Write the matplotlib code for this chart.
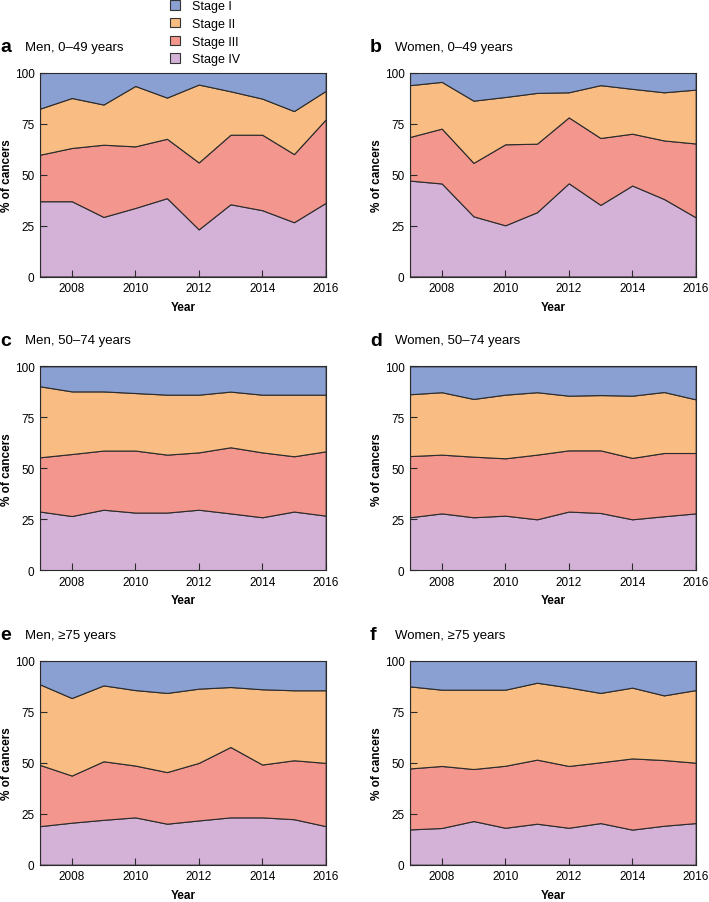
import matplotlib
matplotlib.use("Agg")
import matplotlib.pyplot as plt
from matplotlib.patches import Patch

plt.rcParams.update({"font.family": ["Liberation Sans", "DejaVu Sans"], "font.size": 8.5})

years = [2007, 2008, 2009, 2010, 2011, 2012, 2013, 2014, 2015, 2016]
stage_names = ["Stage I", "Stage II", "Stage III", "Stage IV"]
stage_colors = ["#8AA0D2", "#F9BC82", "#F3968D", "#D4B2D8"]

# share of cancers (%) by stage, per panel
men_0_49_iv = [36.9, 36.9, 29.2, 33.6, 38.4, 23.1, 35.4, 32.5, 26.6, 36.1]
men_0_49_iii = [22.8, 26.1, 35.4, 30.2, 29.1, 32.8, 34.1, 37.0, 33.4, 40.9]
men_0_49_ii = [22.6, 24.5, 19.7, 29.6, 20.2, 38.2, 21.3, 17.7, 21.1, 14.0]
men_0_49_i = [17.7, 12.5, 15.7, 6.6, 12.3, 5.9, 9.2, 12.8, 18.9, 9.0]

women_0_49_iv = [47.0, 45.6, 29.5, 25.1, 31.5, 45.7, 35.1, 44.6, 38.0, 29.0]
women_0_49_iii = [21.4, 26.9, 26.2, 39.7, 33.6, 32.3, 32.8, 25.4, 28.7, 36.2]
women_0_49_ii = [25.4, 22.9, 30.5, 23.2, 24.9, 12.3, 25.9, 22.0, 23.6, 26.4]
women_0_49_i = [6.2, 4.6, 13.8, 12.0, 10.0, 9.7, 6.2, 8.0, 9.7, 8.4]

men_50_74_iv = [28.8, 26.6, 29.7, 28.3, 28.3, 29.7, 27.9, 26.0, 28.8, 26.8]
men_50_74_iii = [26.6, 30.4, 29.0, 30.4, 28.4, 28.1, 32.4, 31.8, 27.1, 31.5]
men_50_74_ii = [34.8, 30.7, 29.0, 28.2, 29.4, 28.3, 27.3, 28.3, 30.2, 27.8]
men_50_74_i = [9.8, 12.3, 12.3, 13.1, 13.9, 13.9, 12.4, 13.9, 13.9, 13.9]

women_50_74_iv = [26.0, 27.9, 26.0, 26.8, 25.0, 28.8, 28.1, 25.0, 26.5, 27.9]
women_50_74_iii = [30.0, 28.8, 29.7, 28.1, 31.7, 30.0, 30.7, 30.1, 31.0, 29.6]
women_50_74_ii = [30.3, 30.6, 28.3, 31.2, 30.6, 26.8, 27.1, 30.5, 29.9, 26.3]
women_50_74_i = [13.7, 12.7, 16.0, 13.9, 12.7, 14.4, 14.1, 14.4, 12.6, 16.2]

men_75_iv = [18.9, 20.6, 22.0, 23.2, 20.1, 21.7, 23.2, 23.2, 22.3, 18.9]
men_75_iii = [30.0, 23.1, 28.7, 25.4, 25.3, 28.2, 34.5, 25.9, 28.9, 31.0]
men_75_ii = [39.5, 38.0, 37.2, 37.0, 38.8, 36.4, 29.4, 36.9, 34.3, 35.6]
men_75_i = [11.6, 18.3, 12.1, 14.4, 15.8, 13.7, 12.9, 14.0, 14.5, 14.5]

women_75_iv = [17.3, 18.0, 21.4, 18.1, 20.1, 18.1, 20.4, 17.2, 19.1, 20.4]
women_75_iii = [29.9, 30.4, 25.5, 30.4, 31.4, 30.3, 29.8, 34.9, 32.2, 29.6]
women_75_ii = [40.2, 37.4, 38.9, 37.3, 37.7, 38.5, 34.0, 34.7, 31.7, 35.6]
women_75_i = [12.6, 14.2, 14.2, 14.2, 10.8, 13.1, 15.8, 13.2, 17.0, 14.4]

panels = [
    ("a", "Men, 0\u201349 years", [men_0_49_iv, men_0_49_iii, men_0_49_ii, men_0_49_i]),
    ("b", "Women, 0\u201349 years", [women_0_49_iv, women_0_49_iii, women_0_49_ii, women_0_49_i]),
    ("c", "Men, 50\u201374 years", [men_50_74_iv, men_50_74_iii, men_50_74_ii, men_50_74_i]),
    ("d", "Women, 50\u201374 years", [women_50_74_iv, women_50_74_iii, women_50_74_ii, women_50_74_i]),
    ("e", "Men, \u226575 years", [men_75_iv, men_75_iii, men_75_ii, men_75_i]),
    ("f", "Women, \u226575 years", [women_75_iv, women_75_iii, women_75_ii, women_75_i]),
]

W, H = 709, 903
fig = plt.figure(figsize=(W / 100, H / 100), dpi=100)

lefts = [40, 410]
tops = [73.5, 367.3, 661.7]
ax_w, ax_h = 285.7, 204
title_dy = 26

for k, (letter, title, series) in enumerate(panels):
    col, row = k % 2, k // 2
    x0, top = lefts[col], tops[row]
    ax = fig.add_axes([x0 / W, 1 - (top + ax_h) / H, ax_w / W, ax_h / H])
    # stack from Stage IV at bottom up to Stage I
    ax.stackplot(years, *series, colors=stage_colors[::-1],
                 edgecolor="#2b2b2b", linewidth=0.8)
    ax.set_xlim(2007, 2016)
    ax.set_ylim(0, 100)
    ax.set_xticks([2008, 2010, 2012, 2014, 2016])
    ax.set_yticks([0, 25, 50, 75, 100])
    ax.tick_params(direction="in", length=5, width=0.8, color="#2b2b2b", labelsize=8.5, pad=4)
    for s in ax.spines.values():
        s.set_color("#2b2b2b")
        s.set_linewidth(0.8)
    ax.set_ylabel("% of cancers", fontweight="bold", fontsize=8.5)
    ax.yaxis.set_label_coords(-0.095, 0.5)
    ax.set_xlabel("Year", fontweight="bold", fontsize=8.5)
    ax.xaxis.set_label_coords(0.5, -0.118)
    ax.set_zorder(1)
    fig.text((x0 - 40) / W, 1 - (top - title_dy) / H, letter,
             fontsize=14, fontweight="bold", va="center", ha="left")
    fig.text((x0 - 15) / W, 1 - (top - title_dy) / H, title,
             fontsize=9.5, va="center", ha="left")

handles = [Patch(facecolor=c, edgecolor="#333333", linewidth=0.8, label=n)
           for n, c in zip(stage_names, stage_colors)]
fig.legend(handles=handles, loc="upper left", bbox_to_anchor=(170 / W, 1.0 - 1 / H),
           frameon=False, fontsize=9, handlelength=0.8, handleheight=0.8,
           handletextpad=1.0, labelspacing=0.45, borderaxespad=0.0, borderpad=0.0)

fig.savefig("out.png", dpi=100)
